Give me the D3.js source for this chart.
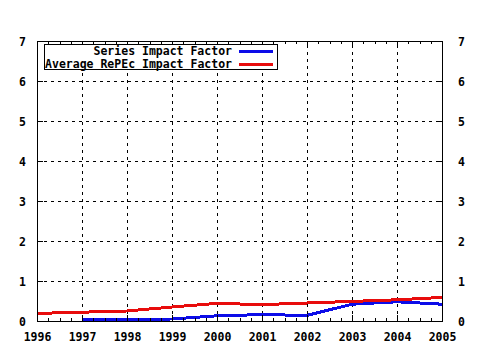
<!DOCTYPE html>
<html>
<head>
<meta charset="utf-8">
<script src="https://cdn.jsdelivr.net/npm/d3@7"></script>
<style>
  html, body { margin: 0; padding: 0; background: #fff; }
  svg { display: block; }
  text { font-family: "DejaVu Sans Mono", monospace; font-weight: bold; font-size: 11.5px; fill: #000; }
</style>
</head>
<body>
<svg id="chart" width="480" height="350"></svg>
<script>
// Impact factor per year
const years = [1996, 1997, 1998, 1999, 2000, 2001, 2002, 2003, 2004, 2005];
const seriesImpact = [null, 0.04, 0.04, 0.05, 0.13, 0.16, 0.14, 0.42, 0.48, 0.42];
const averageImpact = [0.19, 0.22, 0.25, 0.35, 0.44, 0.41, 0.45, 0.49, 0.53, 0.59];
const yTicks = [0, 1, 2, 3, 4, 5, 6, 7];
const seriesNames = ["Series Impact Factor", "Average RePEc Impact Factor"];
const seriesColors = ["#0c0ce8", "#e80c0c"];

const svg = d3.select("#chart");
const plotLeft = 37, plotRight = 442, plotTop = 41, plotBottom = 321;

const x = d3.scaleLinear().domain([1996, 2005]).range([plotLeft, plotRight]);
const y = d3.scaleLinear().domain([0, 7]).range([plotBottom, plotTop]);

// minor ticks every quarter year
const minorTicks = d3.range(1996, 2005.001, 0.25).filter(v => Math.abs(v - Math.round(v)) > 1e-6);

// dotted grid (interior ticks only)
const gridDash = "3,4";
svg.append("g")
  .attr("transform", `translate(0,${plotBottom})`)
  .call(d3.axisBottom(x).tickValues(years.slice(1, -1)).tickSize(-(plotBottom - plotTop)).tickFormat(""))
  .call(g => g.select(".domain").remove())
  .call(g => g.selectAll("line").attr("stroke", "#000").attr("stroke-dasharray", gridDash).attr("shape-rendering", "crispEdges"));
svg.append("g")
  .attr("transform", `translate(${plotLeft},0)`)
  .call(d3.axisLeft(y).tickValues(yTicks.slice(1, -1)).tickSize(-(plotRight - plotLeft)).tickFormat(""))
  .call(g => g.select(".domain").remove())
  .call(g => g.selectAll("line").attr("stroke", "#000").attr("stroke-dasharray", gridDash).attr("shape-rendering", "crispEdges"));

// data lines
const line = d3.line()
  .defined(d => d[1] != null)
  .x(d => x(d[0]))
  .y(d => y(d[1]));

[seriesImpact, averageImpact].forEach((vals, i) => {
  svg.append("path")
    .datum(years.map((yr, j) => [yr, vals[j]]))
    .attr("fill", "none")
    .attr("stroke", seriesColors[i])
    .attr("stroke-width", 3)
    .attr("shape-rendering", "crispEdges")
    .attr("d", line);
});

// axes with inward ticks
function styleAxis(g) {
  g.select(".domain").remove();
  g.selectAll("line").attr("stroke", "#000").attr("shape-rendering", "crispEdges");
  g.selectAll("text").attr("font-family", null).attr("font-size", null);
}

const bottomAxis = svg.append("g")
  .attr("transform", `translate(0,${plotBottom})`)
  .call(d3.axisBottom(x).tickValues(years).tickSize(-6).tickFormat(d3.format("d")))
  .call(styleAxis);
bottomAxis.selectAll("text").attr("y", 0).attr("dy", null).attr("transform", "translate(0,19.5)");

svg.append("g")
  .attr("transform", `translate(0,${plotBottom})`)
  .call(d3.axisBottom(x).tickValues(minorTicks).tickSize(-3).tickFormat(""))
  .call(styleAxis);

svg.append("g")
  .attr("transform", `translate(0,${plotTop})`)
  .call(d3.axisTop(x).tickValues(years).tickSize(-6).tickFormat(""))
  .call(styleAxis);
svg.append("g")
  .attr("transform", `translate(0,${plotTop})`)
  .call(d3.axisTop(x).tickValues(minorTicks).tickSize(-3).tickFormat(""))
  .call(styleAxis);

const leftAxis = svg.append("g")
  .attr("transform", `translate(${plotLeft},0)`)
  .call(d3.axisLeft(y).tickValues(yTicks).tickSize(-6).tickPadding(11).tickFormat(d3.format("d")))
  .call(styleAxis);
leftAxis.selectAll("text").attr("dy", "0.36em");

const rightAxis = svg.append("g")
  .attr("transform", `translate(${plotRight},0)`)
  .call(d3.axisRight(y).tickValues(yTicks).tickSize(-6).tickPadding(16).tickFormat(d3.format("d")))
  .call(styleAxis);
rightAxis.selectAll("text").attr("dy", "0.36em");

// plot border
svg.append("rect")
  .attr("x", plotLeft + 0.5).attr("y", plotTop + 0.5)
  .attr("width", plotRight - plotLeft).attr("height", plotBottom - plotTop)
  .attr("fill", "none").attr("stroke", "#000").attr("stroke-width", 1)
  .attr("shape-rendering", "crispEdges");

// legend
const legend = svg.append("g");
legend.append("rect")
  .attr("x", 44.5).attr("y", 44.5).attr("width", 233).attr("height", 25)
  .attr("fill", "#fff").attr("stroke", "#000").attr("shape-rendering", "crispEdges");
seriesNames.forEach((name, i) => {
  const cy = 51 + i * 13;
  legend.append("text")
    .attr("x", 232).attr("y", cy + 4.2)
    .attr("text-anchor", "end")
    .text(name);
  legend.append("line")
    .attr("x1", 239).attr("x2", 273)
    .attr("y1", cy).attr("y2", cy)
    .attr("stroke", seriesColors[i]).attr("stroke-width", 3)
    .attr("shape-rendering", "crispEdges");
});
</script>
</body>
</html>
